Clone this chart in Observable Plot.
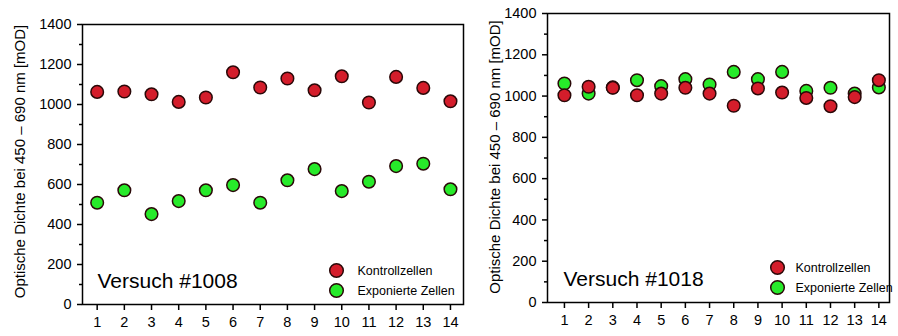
<!DOCTYPE html>
<html>
<head>
<meta charset="utf-8">
<script src="https://cdn.jsdelivr.net/npm/d3@7"></script>
<script src="https://cdn.jsdelivr.net/npm/@observablehq/plot@0.6"></script>
<style>
  body { margin: 0; background: white; }
  #wrap { display: flex; width: 898px; height: 336px; }
  #wrap svg { display: block; }
</style>
</head>
<body>
<div id="wrap"></div>
<script>
// ---- data ----
const runs = [1, 2, 3, 4, 5, 6, 7, 8, 9, 10, 11, 12, 13, 14];
const ctrl1008 = [1063, 1065, 1051, 1013, 1035, 1161, 1085, 1130, 1071, 1141, 1010, 1138, 1083, 1016];
const exp1008  = [509, 571, 452, 517, 571, 597, 509, 621, 677, 567, 614, 692, 704, 576];
const ctrl1018 = [1004, 1045, 1040, 1004, 1012, 1040, 1012, 953, 1037, 1017, 991, 951, 995, 1077];
const exp1018  = [1061, 1012, 1042, 1077, 1048, 1082, 1056, 1117, 1082, 1117, 1025, 1040, 1012, 1042];
const yTicks = [0, 200, 400, 600, 800, 1000, 1200, 1400];
const yMinorTicks = [100, 300, 500, 700, 900, 1100, 1300];
const seriesNames = ["Kontrollzellen", "Exponierte Zellen"];
const experimentTitles = ["Versuch #1008", "Versuch #1018"];
const yLabel = "Optische Dichte bei 450 – 690 nm [mOD]";

const RED = "#d41d2b";
const GREEN = "#27ea2a";
const DOT_STROKE = "#2a0808";
const FONT = "'Liberation Sans', Arial, sans-serif";

function panel(cfg) {
  const ctrlRows = runs.map((r, i) => ({run: r, value: cfg.ctrl[i]}));
  const expRows = runs.map((r, i) => ({run: r, value: cfg.exp[i]}));
  const legendRows = [
    {name: seriesNames[0], color: RED, dy: cfg.legDy[0]},
    {name: seriesNames[1], color: GREEN, dy: cfg.legDy[1]}
  ];
  return Plot.plot({
    width: cfg.width,
    height: 336,
    marginLeft: cfg.ml,
    marginRight: cfg.mr,
    marginTop: cfg.mt,
    marginBottom: cfg.mb,
    style: {fontFamily: FONT, background: "white", color: "black", overflow: "visible"},
    x: {domain: cfg.xDomain, axis: null},
    y: {domain: [0, 1400], axis: null},
    marks: [
      Plot.frame({stroke: "black", strokeWidth: 1.5}),
      Plot.axisX(runs, {label: null, tickSize: 6, tickPadding: 6, fontSize: 14.5, strokeWidth: 1.5, tickFormat: d => String(d)}),
      Plot.axisY(yTicks, {label: null, tickSize: 5, tickPadding: 6, fontSize: 14.5, strokeWidth: 1.5, tickFormat: d => String(d)}),
      Plot.axisY(yMinorTicks, {label: null, tickSize: 3, strokeWidth: 1.5, tickFormat: () => ""}),
      Plot.text([yLabel], {frameAnchor: "left", textAnchor: "middle", lineAnchor: "middle", rotate: -90, dx: cfg.labelDx, dy: cfg.labelDy, fontSize: 15, fill: "black"}),
      Plot.dot(expRows, {x: "run", y: "value", r: 6.3, fill: GREEN, stroke: DOT_STROKE, strokeWidth: 1.5}),
      Plot.dot(ctrlRows, {x: "run", y: "value", r: 6.3, fill: RED, stroke: DOT_STROKE, strokeWidth: 1.5}),
      Plot.text([cfg.title], {frameAnchor: "bottom-left", dx: cfg.titleDx, dy: cfg.titleDy, textAnchor: "start", lineAnchor: "middle", fontSize: 21, fill: "black"}),
      ...legendRows.map(d => Plot.dot([d], {frameAnchor: "bottom-right", dx: cfg.legDotDx, dy: d.dy, r: 6.8, fill: d.color, stroke: DOT_STROKE, strokeWidth: 1.5})),
      ...legendRows.map(d => Plot.text([d.name], {frameAnchor: "bottom-right", dx: cfg.legTextDx, dy: d.dy, textAnchor: "start", lineAnchor: "middle", fontSize: 12.5, fill: "black"}))
    ]
  });
}

const wrap = document.getElementById("wrap");
wrap.appendChild(panel({
  width: 470, ml: 82, mr: 7, mt: 24, mb: 32,
  xDomain: [0.46, 14.48],
  ctrl: ctrl1008, exp: exp1008, title: experimentTitles[0],
  labelDx: -62, labelDy: -3,
  titleDx: 15, titleDy: -23,
  legDotDx: -127, legTextDx: -106, legDy: [-34, -14]
}));
wrap.appendChild(panel({
  width: 428, ml: 77, mr: 9, mt: 13, mb: 34,
  xDomain: [0.3, 14.44],
  ctrl: ctrl1018, exp: exp1018, title: experimentTitles[1],
  labelDx: -52, labelDy: -1,
  titleDx: 16, titleDy: -23,
  legDotDx: -112, legTextDx: -94, legDy: [-35, -15]
}));
</script>
</body>
</html>
